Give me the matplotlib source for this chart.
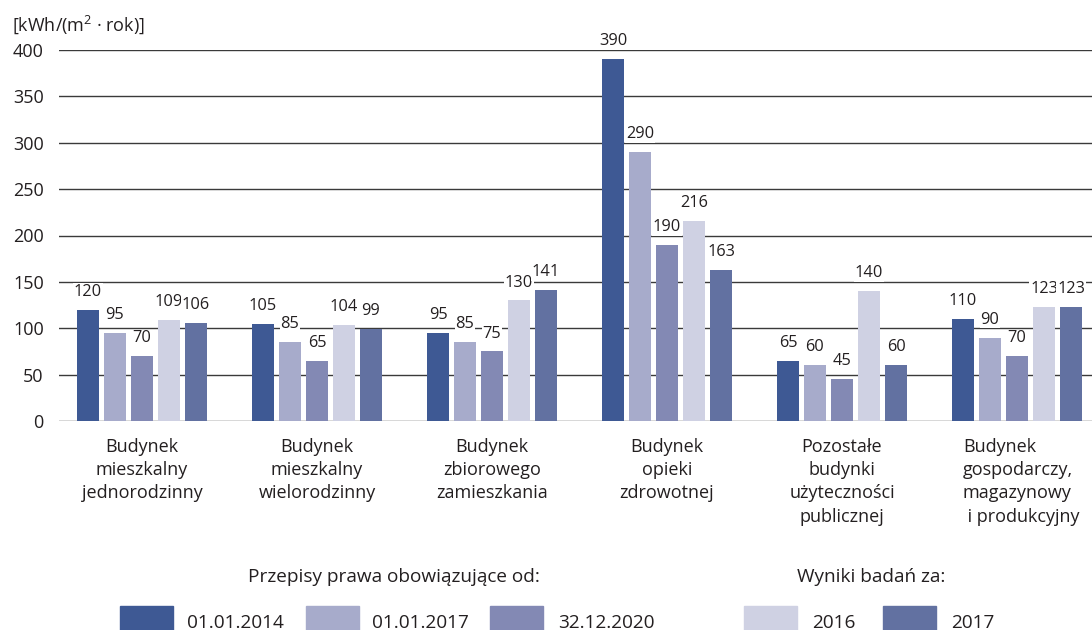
import matplotlib
matplotlib.use('Agg')
import matplotlib.pyplot as plt
from matplotlib.patches import Rectangle
import numpy as np

plt.rcParams['font.family'] = ['Open Sans', 'DejaVu Sans']
plt.rcParams['mathtext.fontset'] = 'custom'
plt.rcParams['mathtext.rm'] = 'Open Sans'
plt.rcParams['text.color'] = '#231f20'

# dane
kategorie = [
    'Budynek\nmieszkalny\njednorodzinny',
    'Budynek\nmieszkalny\nwielorodzinny',
    'Budynek\nzbiorowego\nzamieszkania',
    'Budynek\nopieki\nzdrowotnej',
    'Pozostałe\nbudynki\nużyteczności\npublicznej',
    'Budynek\ngospodarczy,\nmagazynowy\n i produkcyjny',
]
serie = ['01.01.2014', '01.01.2017', '32.12.2020', '2016', '2017']
wart_2014 = [120, 105, 95, 390, 65, 110]
wart_2017 = [95, 85, 85, 290, 60, 90]
wart_2020 = [70, 65, 75, 190, 45, 70]
bad_2016 = [109, 104, 130, 216, 140, 123]
bad_2017 = [106, 99, 141, 163, 60, 123]
y_ticks = [0, 50, 100, 150, 200, 250, 300, 350, 400]

dane = [wart_2014, wart_2017, wart_2020, bad_2016, bad_2017]
kolory = ['#3e5994', '#a7abcb', '#8389b4', '#cfd1e3', '#6271a1']

W, H = 1092, 630
fig = plt.figure(figsize=(W / 100, H / 100), dpi=100)
ax = fig.add_axes([59 / W, 1 - 421 / H, 1 - 59 / W, (421 - 50) / H])

krok = 27 / 175
szer = 22 / 175
x = np.arange(len(kategorie))

for j, (vals, kol) in enumerate(zip(dane, kolory)):
    pos = x + (j - 2) * krok
    ax.bar(pos, vals, width=szer, color=kol, zorder=2)
    for px, v in zip(pos, vals):
        ax.annotate(str(v), (px, v), xytext=(0, 10), textcoords='offset points',
                    ha='center', va='baseline', fontsize=11.8, zorder=4,
                    bbox=dict(facecolor='white', edgecolor='none', pad=0.5))

ax.set_xlim(-83 / 175, 950 / 175)
ax.set_ylim(0, 400)
ax.set_yticks(y_ticks)
ax.tick_params(axis='y', length=0, pad=11, labelsize=13, labelcolor='#231f20')
ax.set_xticks([])
ax.grid(axis='y', color='#3a3a3a', linewidth=1.0, zorder=0)
ax.set_axisbelow(True)
for s in ax.spines.values():
    s.set_visible(False)

# podpisy kategorii
for i, kat in enumerate(kategorie):
    if i == len(kategorie) - 1:
        ax.annotate(kat, (i - 0.31, 0), xytext=(0, -12), textcoords='offset points',
                    ha='left', va='top', fontsize=13, multialignment='left',
                    linespacing=1.38, annotation_clip=False)
    else:
        ax.annotate(kat, (i, 0), xytext=(0, -12), textcoords='offset points',
                    ha='center', va='top', fontsize=13, multialignment='center',
                    linespacing=1.38, annotation_clip=False)

# jednostka
fig.text(12 / W, 1 - 25 / H, r'[kWh/(m$^{2}$ · rok)]', fontsize=13, va='center', ha='left')

# legenda
fig.text(248 / W, 1 - 582 / H, 'Przepisy prawa obowiązujące od:', fontsize=13.7,
         ha='left', va='baseline')
fig.text(797 / W, 1 - 582 / H, 'Wyniki badań za:', fontsize=13.7,
         ha='left', va='baseline')
patch_x = [120, 306, 490, 744, 883]
text_x = [187, 372, 558, 812, 951]
for px, tx, kol, nazwa in zip(patch_x, text_x, kolory, serie):
    fig.patches.append(Rectangle((px / W, 0), 53 / W, (630 - 606) / H,
                                 transform=fig.transFigure, color=kol))
    fig.text(tx / W, 1 - 628 / H, nazwa, fontsize=13.7, ha='left', va='baseline')

fig.savefig('out.png', dpi=100)
